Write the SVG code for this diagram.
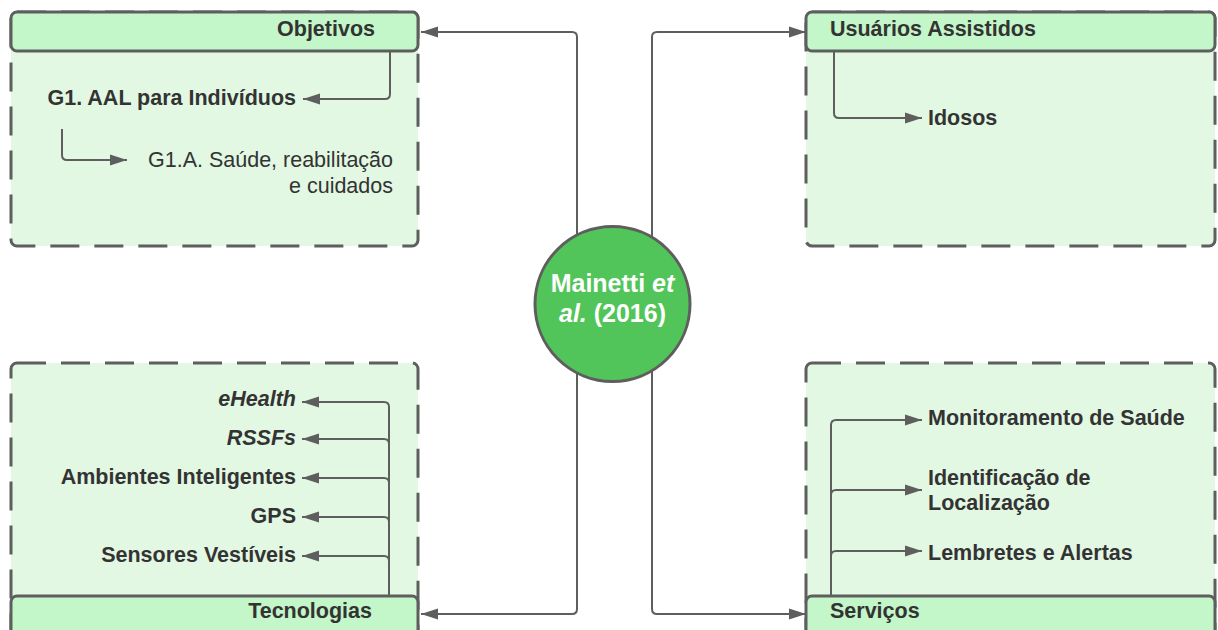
<svg xmlns="http://www.w3.org/2000/svg" width="1218" height="630" viewBox="0 0 1218 630">
  <style>
    .body { fill: #e2f8e3; stroke: #5e5e5e; stroke-width: 3; stroke-dasharray: 29 15; }
    .head { fill: #c3f6c8; stroke: #5e5e5e; stroke-width: 3; }
    .t { font-family: "Liberation Sans", Arial, sans-serif; font-size: 21.5px; fill: #333333; }
    .b { font-weight: bold; }
    .i { font-style: italic; }
    .conn path { fill: none; stroke: #5e5e5e; stroke-width: 2; marker-end: url(#arrow); }
  </style>
  <defs>
    <marker id="arrow" markerUnits="userSpaceOnUse" markerWidth="18" markerHeight="12" viewBox="0 0 18 12" refX="17" refY="6" orient="auto">
      <path d="M0,0.5 L17,6 L0,11.5 Z" fill="#5e5e5e"/>
    </marker>
  </defs>

  <rect width="1218" height="630" fill="#ffffff"/>

  <!-- Objetivos panel -->
  <g id="objetivos">
    <rect class="body" x="11" y="12" width="407" height="234" rx="6"/>
    <rect class="head" x="11" y="12" width="407" height="39" rx="6"/>
    <text class="t b" x="375" y="36" text-anchor="end">Objetivos</text>
    <text class="t b" x="296" y="105" text-anchor="end">G1. AAL para Indivíduos</text>
    <text class="t" x="393" y="167" text-anchor="end">G1.A. Saúde, reabilitação</text>
    <text class="t" x="393" y="193" text-anchor="end">e cuidados</text>
  </g>

  <!-- Usuários Assistidos panel -->
  <g id="usuarios">
    <rect class="body" x="806" y="12" width="409" height="234" rx="6"/>
    <rect class="head" x="806" y="12" width="409" height="39" rx="6"/>
    <text class="t b" x="830" y="36">Usuários Assistidos</text>
    <text class="t b" x="928" y="125">Idosos</text>
  </g>

  <!-- Tecnologias panel -->
  <g id="tecnologias">
    <rect class="body" x="11" y="363" width="407" height="290" rx="6"/>
    <rect class="head" x="11" y="596" width="407" height="50" rx="6"/>
    <text class="t b i" x="296" y="406" text-anchor="end">eHealth</text>
    <text class="t b i" x="296" y="445" text-anchor="end">RSSFs</text>
    <text class="t b" x="296" y="484" text-anchor="end">Ambientes Inteligentes</text>
    <text class="t b" x="296" y="523" text-anchor="end">GPS</text>
    <text class="t b" x="296" y="562" text-anchor="end">Sensores Vestíveis</text>
    <text class="t b" x="372" y="618" text-anchor="end">Tecnologias</text>
  </g>

  <!-- Serviços panel -->
  <g id="servicos">
    <rect class="body" x="806" y="363" width="409" height="290" rx="6"/>
    <rect class="head" x="806" y="596" width="409" height="50" rx="6"/>
    <text class="t b" x="928" y="425">Monitoramento de Saúde</text>
    <text class="t b" x="928" y="485">Identificação de</text>
    <text class="t b" x="928" y="510">Localização</text>
    <text class="t b" x="928" y="560">Lembretes e Alertas</text>
    <text class="t b" x="830" y="618">Serviços</text>
  </g>

  <!-- connectors -->
  <g id="connectors" class="conn">
    <!-- hub to the four panels -->
    <path d="M577,250 V37 Q577,32 572,32 H421"/>
    <path d="M652,250 V37 Q652,32 657,32 H806"/>
    <path d="M577,360 V609 Q577,614 572,614 H421"/>
    <path d="M652,360 V609 Q652,614 657,614 H806"/>
    <!-- Objetivos -->
    <path d="M390,51 V94 Q390,99 385,99 H303"/>
    <path d="M62,129 V155 Q62,160 67,160 H127"/>
    <!-- Usuários Assistidos -->
    <path d="M834,51 V113 Q834,118 839,118 H922"/>
    <!-- Tecnologias -->
    <path d="M389,596 V407 Q389,402 384,402 H302"/>
    <path d="M389,596 V444 Q389,439 384,439 H302"/>
    <path d="M389,596 V483 Q389,478 384,478 H302"/>
    <path d="M389,596 V522 Q389,517 384,517 H302"/>
    <path d="M389,596 V561 Q389,556 384,556 H302"/>
    <!-- Serviços -->
    <path d="M831,596 V425 Q831,420 836,420 H922"/>
    <path d="M831,596 V495 Q831,490 836,490 H922"/>
    <path d="M831,596 V556 Q831,551 836,551 H922"/>
  </g>

  <!-- central node -->
  <g id="hub">
    <circle cx="612.5" cy="304" r="77.5" fill="#52c55a" stroke="#5e5e5e" stroke-width="3"/>
    <text class="t b" x="612.5" y="292" text-anchor="middle" style="font-size:25px;fill:#ffffff">Mainetti <tspan class="i">et</tspan></text>
    <text class="t b" x="612.5" y="322" text-anchor="middle" style="font-size:25px;fill:#ffffff"><tspan class="i">al.</tspan> (2016)</text>
  </g>
</svg>
